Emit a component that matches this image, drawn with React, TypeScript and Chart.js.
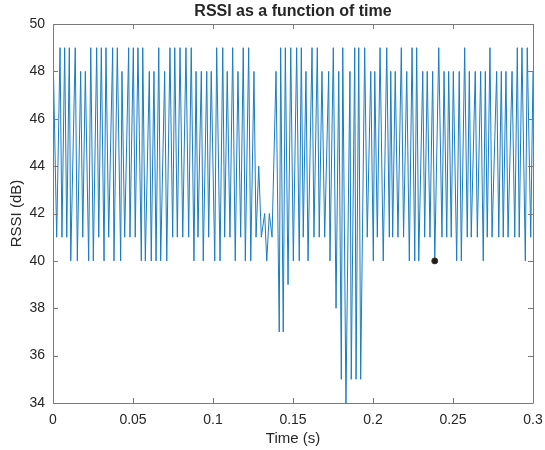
import React, { useEffect, useRef } from "react";
import { Chart, registerables } from "chart.js";

Chart.register(...registerables);

// Time (s) of each sample
const timeS: number[] = [
  0.0, 0.0023, 0.0044, 0.0056, 0.0073, 0.0086, 0.0102, 0.0111, 0.0139, 0.0152,
  0.0173, 0.0186, 0.0202, 0.0223, 0.0236, 0.0252, 0.0273, 0.0286, 0.0302, 0.0319,
  0.0331, 0.0348, 0.0373, 0.0381, 0.0402, 0.0423, 0.0431, 0.0448, 0.0473, 0.0481,
  0.0502, 0.0514, 0.0531, 0.0552, 0.0561, 0.0577, 0.0602, 0.0614, 0.0631, 0.0644,
  0.0661, 0.0673, 0.0698, 0.0711, 0.0731, 0.0748, 0.0761, 0.0777, 0.0794, 0.0811,
  0.0831, 0.0848, 0.0864, 0.0881, 0.0894, 0.0906, 0.0927, 0.0939, 0.0961, 0.0973,
  0.0989, 0.1011, 0.1023, 0.1044, 0.1061, 0.1073, 0.1089, 0.1106, 0.1123, 0.1139,
  0.1156, 0.1173, 0.1189, 0.1202, 0.1223, 0.1236, 0.1256, 0.1269, 0.1286, 0.1302,
  0.1323, 0.1336, 0.1352, 0.1369, 0.1394, 0.1414, 0.1423, 0.1439, 0.1452, 0.1469,
  0.1486, 0.1502, 0.1523, 0.1539, 0.1552, 0.1564, 0.1581, 0.1594, 0.1619, 0.1631,
  0.1652, 0.1664, 0.1681, 0.1698, 0.1723, 0.1731, 0.1752, 0.1769, 0.1786, 0.1802,
  0.1811, 0.1831, 0.1856, 0.1864, 0.1886, 0.1894, 0.1911, 0.1923, 0.1948, 0.1964,
  0.1986, 0.2002, 0.2011, 0.2027, 0.2044, 0.2064, 0.2086, 0.2102, 0.2111, 0.2123,
  0.2139, 0.2156, 0.2177, 0.2191, 0.2211, 0.2227, 0.2244, 0.2261, 0.2273, 0.2286,
  0.2311, 0.2323, 0.2339, 0.2356, 0.2373, 0.2386, 0.2411, 0.2431, 0.2444, 0.2461,
  0.2473, 0.2489, 0.2502, 0.2523, 0.2539, 0.2552, 0.2573, 0.2589, 0.2602, 0.2614,
  0.2639, 0.2652, 0.2673, 0.2689, 0.2702, 0.2714, 0.2731, 0.2744, 0.2773, 0.2786,
  0.2802, 0.2814, 0.2831, 0.2844, 0.2869, 0.2886, 0.2902, 0.2914, 0.2931, 0.2952,
  0.2964, 0.2986, 0.3,
];

// RSSI (dB) of each sample
const rssiDb: number[] = [
  49, 41, 49, 41, 49, 41, 49, 40, 49, 40,
  48, 41, 48, 40, 49, 40, 49, 41, 49, 40,
  49, 41, 49, 40, 49, 40, 48, 41, 49, 41,
  49, 41, 49, 40, 49, 40, 48, 40, 48, 40,
  49, 40, 48, 40, 49, 41, 49, 41, 49, 41,
  49, 41, 49, 40, 48, 41, 48, 40, 48, 41,
  48, 40, 49, 40, 49, 41, 48, 41, 49, 40,
  48, 41, 49, 40, 49, 40, 48, 41, 44, 41,
  42, 40, 42, 41, 48, 37, 49, 37, 49, 39,
  49, 40, 49, 40, 49, 41, 48, 40, 49, 41,
  49, 41, 48, 41, 48, 40, 49, 38, 48, 35,
  49, 34, 48, 35, 49, 35, 49, 35, 49, 41,
  48, 40, 48, 41, 49, 40, 49, 41, 48, 41,
  48, 41, 49, 41, 48, 40, 49, 40, 49, 40,
  48, 41, 48, 41, 48, 40, 49, 41, 48, 41,
  48, 41, 48, 40, 48, 40, 49, 41, 48, 41,
  48, 41, 48, 40, 48, 41, 49, 41, 48, 41,
  48, 41, 48, 41, 48, 41, 49, 41, 49, 40,
  49, 41, 48,
];

// Highlighted data point (datatip marker)
const markerTime: number[] = [0.2386];
const markerRssi: number[] = [40];

const xTickValues: number[] = [0, 0.05, 0.1, 0.15, 0.2, 0.25, 0.3];
const xTickLabels: string[] = ["0", "0.05", "0.1", "0.15", "0.2", "0.25", "0.3"];
const yTickValues: number[] = [34, 36, 38, 40, 42, 44, 46, 48, 50];
const yTickLabels: string[] = ["34", "36", "38", "40", "42", "44", "46", "48", "50"];

const titleText = "RSSI as a function of time";
const xTitle = "Time (s)";
const yTitle = "RSSI (dB)";

const FONT = "'Liberation Sans', Arial, Helvetica, sans-serif";
const TEXT = "#262626";

const boxPlugin = {
  id: "matlabBox",
  afterDatasetsDraw(chart: any) {
    const { ctx, chartArea, scales } = chart;
    const { left, right, top, bottom } = chartArea;
    ctx.save();
    ctx.strokeStyle = "#7a7a7a";
    ctx.lineWidth = 1;
    ctx.beginPath();
    ctx.rect(Math.round(left) + 0.5, Math.round(top) + 0.5, Math.round(right - left), Math.round(bottom - top));
    ctx.stroke();
    const tl = 5;
    ctx.beginPath();
    for (const v of xTickValues) {
      const x = Math.round(scales.x.getPixelForValue(v)) + 0.5;
      ctx.moveTo(x, bottom);
      ctx.lineTo(x, bottom - tl);
      ctx.moveTo(x, top);
      ctx.lineTo(x, top + tl);
    }
    for (const v of yTickValues) {
      const y = Math.round(scales.y.getPixelForValue(v)) + 0.5;
      ctx.moveTo(left, y);
      ctx.lineTo(left + tl, y);
      ctx.moveTo(right, y);
      ctx.lineTo(right - tl, y);
    }
    ctx.stroke();
    // Title centred over the axes box (MATLAB style)
    ctx.fillStyle = TEXT;
    ctx.font = `bold 16px ${FONT}`;
    ctx.textAlign = "center";
    ctx.textBaseline = "middle";
    ctx.fillText(titleText, (left + right) / 2, 12);
    ctx.restore();
  },
};

export default function App() {
  const ref = useRef<HTMLCanvasElement | null>(null);

  useEffect(() => {
    if (!ref.current) return;
    const lineData = timeS.map((t, i) => ({ x: t, y: rssiDb[i] }));
    const markerData = markerTime.map((t, i) => ({ x: t, y: markerRssi[i] }));
    const chart = new Chart(ref.current, {
      type: "line",
      data: {
        datasets: [
          {
            label: "marker",
            data: markerData,
            showLine: false,
            pointRadius: 3,
            pointBackgroundColor: "#1c1c1c",
            pointBorderColor: "#3a3a20",
            pointBorderWidth: 1,
            order: 0,
          },
          {
            label: "RSSI",
            data: lineData,
            borderColor: "#1a7cc2",
            borderWidth: 1,
            pointRadius: 0,
            tension: 0,
            fill: false,
            order: 1,
          },
        ],
      },
      options: {
        responsive: false,
        animation: false,
        devicePixelRatio: 1,
        layout: { padding: { top: 24, right: 12, bottom: 0, left: 0 } },
        plugins: {
          legend: { display: false },
          tooltip: { enabled: false },
          title: { display: false },
        },
        scales: {
          x: {
            type: "linear",
            min: 0,
            max: 0.3,
            afterBuildTicks: (scale: any) => {
              scale.ticks = xTickValues.map((v) => ({ value: v }));
            },
            afterFit: (scale: any) => {
              scale.height = 47;
              scale.paddingLeft = 0;
              scale.paddingRight = 0;
            },
            grid: { display: false, drawTicks: false },
            border: { display: false },
            ticks: {
              color: TEXT,
              font: { family: FONT, size: 14 },
              padding: 9,
              maxRotation: 0,
              autoSkip: false,
              callback: (v: any) => {
                const i = xTickValues.findIndex((t) => Math.abs(t - Number(v)) < 1e-9);
                return i >= 0 ? xTickLabels[i] : "";
              },
            },
            title: {
              display: true,
              text: xTitle,
              color: TEXT,
              font: { family: FONT, size: 15 },
              padding: { top: 0, bottom: 2 },
            },
          },
          y: {
            type: "linear",
            min: 34,
            max: 50,
            afterBuildTicks: (scale: any) => {
              scale.ticks = yTickValues.map((v) => ({ value: v }));
            },
            afterFit: (scale: any) => {
              scale.width = 53;
              scale.paddingTop = 0;
              scale.paddingBottom = 0;
            },
            grid: { display: false, drawTicks: false },
            border: { display: false },
            ticks: {
              color: TEXT,
              font: { family: FONT, size: 14 },
              padding: 8,
              autoSkip: false,
              callback: (v: any) => {
                const i = yTickValues.indexOf(Number(v));
                return i >= 0 ? yTickLabels[i] : "";
              },
            },
            title: {
              display: true,
              text: yTitle,
              color: TEXT,
              font: { family: FONT, size: 15 },
              padding: { top: 8, bottom: 0 },
            },
          },
        },
      },
      plugins: [boxPlugin],
    });
    return () => chart.destroy();
  }, []);

  return (
    <div style={{ position: "fixed", left: 0, top: 0, width: 545, height: 450, background: "#ffffff" }}>
      <canvas ref={ref} width={545} height={450} style={{ width: 545, height: 450 }} />
    </div>
  );
}
